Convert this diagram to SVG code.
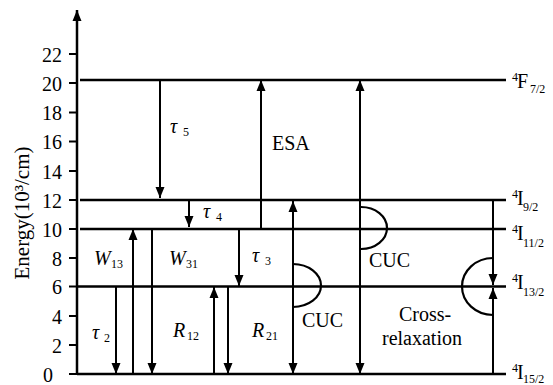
<svg xmlns="http://www.w3.org/2000/svg" width="553" height="385" viewBox="0 0 553 385" font-family="'Liberation Serif', 'Times New Roman', 'DejaVu Serif', serif">
<style>
.t{font-size:20px}
.it{font-size:20px;font-style:italic}
.sm{font-size:12px}
.lv{stroke:#000;stroke-width:2.5;fill:none}
.ar{stroke:#000;stroke-width:2;fill:none}
.tk{stroke:#000;stroke-width:2}
.cv{stroke:#000;stroke-width:2.2;fill:none}
</style>
<defs>
<marker id="ah" markerUnits="userSpaceOnUse" markerWidth="12" markerHeight="10" refX="11" refY="4.5" orient="auto-start-reverse" viewBox="0 0 12 9">
<path d="M0,0 L11,4.5 L0,9 z" fill="#000"/>
</marker>
</defs>
<rect width="553" height="385" fill="#fff"/>

<g id="axis">
<line class="lv" x1="77" y1="375" x2="77" y2="10" marker-end="url(#ah)"/>
<g class="tk">
<line x1="69" y1="374" x2="77" y2="374"/>
<line x1="69" y1="345" x2="77" y2="345"/>
<line x1="69" y1="316" x2="77" y2="316"/>
<line x1="69" y1="286.5" x2="77" y2="286.5"/>
<line x1="69" y1="258" x2="77" y2="258"/>
<line x1="69" y1="229" x2="77" y2="229"/>
<line x1="69" y1="200" x2="77" y2="200"/>
<line x1="69" y1="171" x2="77" y2="171"/>
<line x1="69" y1="141.5" x2="77" y2="141.5"/>
<line x1="69" y1="112.5" x2="77" y2="112.5"/>
<line x1="69" y1="83" x2="77" y2="83"/>
<line x1="69" y1="54" x2="77" y2="54"/>
</g>
<g class="t" text-anchor="end">
<text x="43" y="381.5" text-anchor="start">0</text>
<text x="62" y="352.5">2</text>
<text x="62" y="323.5">4</text>
<text x="62" y="294">6</text>
<text x="62" y="265.5">8</text>
<text x="62" y="236.5">10</text>
<text x="62" y="207.5">12</text>
<text x="62" y="178.5">14</text>
<text x="62" y="149">16</text>
<text x="62" y="120">18</text>
<text x="62" y="90.5">20</text>
<text x="62" y="61.5">22</text>
</g>
<text transform="translate(28.5,213) rotate(-90)" text-anchor="middle" font-size="21">Energy(10³/cm)</text>
</g>

<g id="level-F7-2">
<line class="lv" x1="80" y1="80" x2="506" y2="80"/>
<text><tspan class="sm" x="512" y="81">4</tspan><tspan class="t" x="517" y="88">F</tspan><tspan class="sm" x="530" y="93">7/2</tspan></text>
</g>
<g id="level-I9-2">
<line class="lv" x1="80" y1="200" x2="506" y2="200"/>
<text><tspan class="sm" x="512" y="198">4</tspan><tspan class="t" x="517" y="205">I</tspan><tspan class="sm" x="523" y="211">9/2</tspan></text>
</g>
<g id="level-I11-2">
<line class="lv" x1="80" y1="229" x2="506" y2="229"/>
<text><tspan class="sm" x="512" y="233">4</tspan><tspan class="t" x="517" y="240">I</tspan><tspan class="sm" x="523" y="247">11/2</tspan></text>
</g>
<g id="level-I13-2">
<line class="lv" x1="77" y1="286.5" x2="506" y2="286.5"/>
<text><tspan class="sm" x="512" y="282">4</tspan><tspan class="t" x="517" y="289">I</tspan><tspan class="sm" x="523" y="296">13/2</tspan></text>
</g>
<g id="level-I15-2">
<line class="lv" x1="77" y1="374" x2="506" y2="374"/>
<text><tspan class="sm" x="512" y="372">4</tspan><tspan class="t" x="517" y="379">I</tspan><tspan class="sm" x="523" y="383">15/2</tspan></text>
</g>

<g id="connectors">
<line class="ar" x1="160" y1="81" x2="160" y2="198" marker-end="url(#ah)"/>
<line class="ar" x1="261" y1="229" x2="261" y2="80" marker-end="url(#ah)"/>
<line class="ar" x1="189" y1="201" x2="189" y2="227" marker-end="url(#ah)"/>
<line class="ar" x1="133" y1="374" x2="133" y2="229" marker-end="url(#ah)"/>
<line class="ar" x1="152" y1="229" x2="152" y2="374" marker-end="url(#ah)"/>
<line class="ar" x1="239" y1="230" x2="239" y2="286" marker-end="url(#ah)"/>
<line class="ar" x1="116" y1="287" x2="116" y2="374" marker-end="url(#ah)"/>
<line class="ar" x1="214" y1="374" x2="214" y2="287" marker-end="url(#ah)"/>
<line class="ar" x1="228" y1="287" x2="228" y2="374" marker-end="url(#ah)"/>
<line class="ar" x1="293" y1="374" x2="293" y2="201" marker-start="url(#ah)" marker-end="url(#ah)"/>
<line class="ar" x1="360" y1="374" x2="360" y2="80" marker-start="url(#ah)" marker-end="url(#ah)"/>
<line class="ar" x1="493" y1="200" x2="493" y2="285" marker-end="url(#ah)"/>
<line class="ar" x1="493" y1="374" x2="493" y2="288" marker-end="url(#ah)"/>
<path class="cv" d="M293,264 A28,21.5 0 0 1 293,307"/>
<path class="cv" d="M361,207 A26,21 0 0 1 361,249"/>
<path class="cv" d="M493,258 A31,28.5 0 0 0 493,315"/>
</g>

<g id="labels">
<text><tspan class="it" x="170" y="133">τ</tspan><tspan class="sm" x="183" y="136">5</tspan></text>
<text class="t" x="272" y="150">ESA</text>
<text><tspan class="it" x="203" y="218">τ</tspan><tspan class="sm" x="216" y="221">4</tspan></text>
<text><tspan class="it" x="94" y="265">W</tspan><tspan class="sm" x="111" y="268">13</tspan></text>
<text><tspan class="it" x="169" y="265">W</tspan><tspan class="sm" x="186" y="268">31</tspan></text>
<text><tspan class="it" x="252" y="262">τ</tspan><tspan class="sm" x="265" y="265">3</tspan></text>
<text><tspan class="it" x="92" y="339">τ</tspan><tspan class="sm" x="104" y="342">2</tspan></text>
<text><tspan class="it" x="173" y="337">R</tspan><tspan class="sm" x="187" y="340">12</tspan></text>
<text><tspan class="it" x="252" y="337">R</tspan><tspan class="sm" x="266" y="340">21</tspan></text>
<text class="t" x="302" y="327">CUC</text>
<text class="t" x="369" y="267">CUC</text>
<text class="t" x="425" y="321" text-anchor="middle">Cross-</text>
<text class="t" x="422" y="345" text-anchor="middle">relaxation</text>
</g>
</svg>
